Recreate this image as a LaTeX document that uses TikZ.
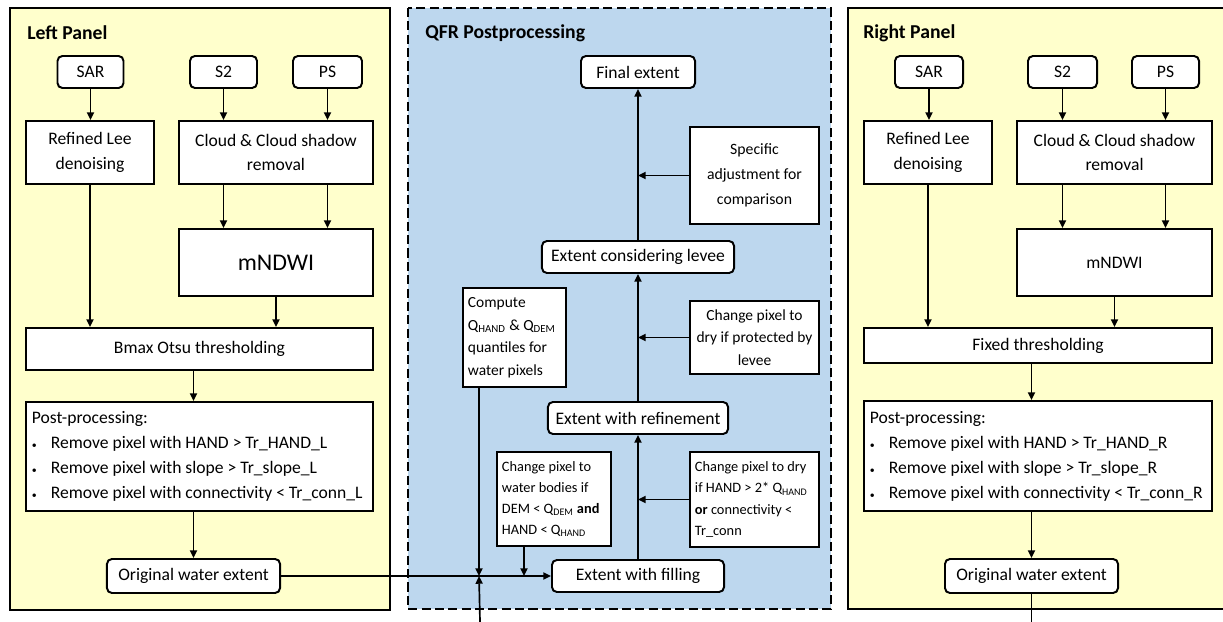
\documentclass[tikz,border=0pt]{standalone}
\usepackage{fontspec}
\setmainfont{Carlito}
\usepackage{tikz}
\usetikzlibrary{arrows.meta}
\usetikzlibrary{positioning}
\definecolor{panelyellow}{RGB}{255,255,204}
\definecolor{panelblue}{RGB}{189,215,238}
\newcommand{\listdot}{\makebox[13.5pt][l]{{\scriptsize\textbullet}}}
\tikzset{panel/.style={draw=black, line width=1.4pt},   % frame round each panel
         title/.style={anchor=west, inner sep=0pt, font=\fontsize{14}{16}\selectfont\bfseries},
         source/.style={  % rounded boxes: inputs and extents
           draw, fill=white, rounded corners=3.5pt, line width=1.4pt,
           inner sep=0pt, font=\fontsize{12.5}{17.5}\selectfont},
         stepbox/.style={ % plain processing boxes
           draw, fill=white, line width=1.4pt, inner sep=0pt,
           align=center, font=\fontsize{12.5}{17.5}\selectfont},
         notebox/.style={ % left aligned text boxes
           draw, fill=white, line width=1.4pt, inner xsep=0.125cm,
           inner ysep=0pt, align=flush left, font=\fontsize{11}{16}\selectfont},
         flow/.style={-{Triangle[length=5.5pt,width=5pt]}, line width=1.2pt}}

\begin{document}
\begin{tikzpicture}[x=0.025cm, y=-0.025cm]
\clip (0,0) rectangle (1223,622);
\fill[white] (0,0) rectangle (1223,622);

% panels
\draw[panel, fill=panelyellow] (10,8) rectangle (390,610);
\draw[panel, fill=panelblue, dash pattern=on 6.5pt off 3pt] (408,8) rectangle (831,609);
\draw[panel, fill=panelyellow] (848,8) rectangle (1240,609);

% left panel
\node[title] (ltitle) at (27,33) {Left Panel};
\node[source, minimum width=1.65cm, minimum height=0.8cm] (lsar) at (90.5,72) {SAR};
\node[source, minimum width=1.675cm, minimum height=0.8cm] (ls2) at (223.5,72) {S2};
\node[source, minimum width=1.725cm, minimum height=0.8cm] (lps) at (327.5,72) {PS};
\node[stepbox, minimum width=3.2cm, minimum height=1.575cm] (llee) at (90,152.5) {Refined Lee\\denoising};
\node[stepbox, minimum width=4.85cm, minimum height=1.575cm] (lcloud) at (276,152.5) {Cloud \& Cloud shadow\\removal};
\node[stepbox, minimum width=4.85cm, minimum height=1.675cm, font=\fontsize{17}{20}\selectfont] (lndwi) at (276,262.5) {mNDWI};
\node[stepbox, minimum width=8.675cm, minimum height=1.05cm] (lbmax) at (199.5,349) {Bmax Otsu thresholding};
\node[notebox, inner xsep=0.15cm, text width=8.375cm, minimum height=2.725cm, font=\fontsize{12.5}{17.8}\selectfont] (lpost) at (199.5,456.5)
  {Post-processing:\\\listdot Remove pixel with HAND > Tr\_HAND\_L\\\listdot Remove pixel with slope > Tr\_slope\_L\\\listdot Remove pixel with connectivity < Tr\_conn\_L};
\node[source, minimum width=4.325cm, minimum height=0.85cm] (lorig) at (193.5,576) {Original water extent};

% QFR postprocessing
\node[title] (ctitle) at (425,33) {QFR Postprocessing};
\node[source, minimum width=2.85cm, minimum height=0.8cm] (final) at (638,72) {Final extent};
\node[stepbox, minimum width=3.225cm, minimum height=2.425cm, font=\fontsize{11.2}{18}\selectfont] (spec) at (754.5,175.5) {Specific\\adjustment for\\comparison};
\node[source, minimum width=4.8cm, minimum height=0.8cm] (levee) at (638,257) {Extent considering levee};
\node[notebox, text width=2.325cm, minimum height=2.475cm] (compute) at (514.5,337.5)
  {Compute\\Q\textsubscript{HAND} \& Q\textsubscript{DEM}\\quantiles for\\water pixels};
\node[stepbox, minimum width=3.225cm, minimum height=1.825cm, font=\fontsize{11}{16}\selectfont] (protect) at (754.5,337.5) {Change pixel to\\dry if protected by\\levee};
\node[source, minimum width=4.5cm, minimum height=0.8cm] (refine) at (638,418) {Extent with refinement};
\node[notebox, text width=2.6cm, minimum height=2.35cm, font=\fontsize{10.2}{15}\selectfont] (water) at (554,499)
  {Change pixel to\\water bodies if\\DEM < Q\textsubscript{DEM} \textbf{and}\\HAND < Q\textsubscript{HAND}};
\node[notebox, text width=2.975cm, minimum height=2.375cm, font=\fontsize{10.2}{15}\selectfont] (dry) at (754.5,499.5)
  {Change pixel to dry\\if HAND > 2* Q\textsubscript{HAND}\\\textbf{or} connectivity <\\Tr\_conn};
\node[source, minimum width=4.3cm, minimum height=0.8cm] (filling) at (638,576) {Extent with filling};

\coordinate (cfoot) at ([xshift=0.425cm]compute.south west);
\coordinate (wfoot) at ([xshift=0.7cm]water.south west);
\coordinate (cross) at (cfoot |- filling.west);
\coordinate (qin) at (480,622);

% right panel
\node[title] (rtitle) at (863,33) {Right Panel};
\node[source, minimum width=1.7cm, minimum height=0.8cm] (rsar) at (929,72) {SAR};
\node[source, minimum width=1.725cm, minimum height=0.8cm] (rs2) at (1062.5,72) {S2};
\node[source, minimum width=1.675cm, minimum height=0.8cm] (rps) at (1165.5,72) {PS};
\node[stepbox, minimum width=3.2cm, minimum height=1.575cm] (rlee) at (928,152.5) {Refined Lee\\denoising};
\node[stepbox, minimum width=4.875cm, minimum height=1.575cm] (rcloud) at (1114.5,152.5) {Cloud \& Cloud shadow\\removal};
\node[stepbox, minimum width=4.875cm, minimum height=1.675cm] (rndwi) at (1114.5,262.5) {mNDWI};
\node[stepbox, minimum width=8.7cm, minimum height=0.875cm] (rfix) at (1038,345.5) {Fixed thresholding};
\node[notebox, inner xsep=0.15cm, text width=8.4cm, minimum height=2.75cm, font=\fontsize{12.5}{17.8}\selectfont] (rpost) at (1038,456)
  {Post-processing:\\\listdot Remove pixel with HAND > Tr\_HAND\_R\\\listdot Remove pixel with slope > Tr\_slope\_R\\\listdot Remove pixel with connectivity < Tr\_conn\_R};
\node[source, minimum width=4.325cm, minimum height=0.85cm] (rorig) at (1031.5,576) {Original water extent};
\coordinate (rout) at (1031.5,622);

% connectors, left
\draw[flow] (lsar.south) -- (lsar.south |- llee.north);
\draw[flow] (ls2.south) -- (ls2.south |- lcloud.north);
\draw[flow] (lps.south) -- (lps.south |- lcloud.north);
\draw[flow] (ls2.south |- lcloud.south) -- (ls2.south |- lndwi.north);
\draw[flow] (lps.south |- lcloud.south) -- (lps.south |- lndwi.north);
\draw[flow] (llee.south) -- (llee.south |- lbmax.north);
\draw[flow] (lndwi.south) -- (lndwi.south |- lbmax.north);
\draw[flow] (lorig.north |- lbmax.south) -- (lorig.north |- lpost.north);
\draw[flow] (lorig.north |- lpost.south) -- (lorig.north);
\draw[flow] (lorig.east) -- (filling.west);

% connectors, centre
\draw[flow] (levee.north) -- (final.south);
\draw[flow] (spec.west) -- (spec.west -| final.south);
\draw[flow] (refine.north) -- (levee.south);
\draw[flow] (protect.west) -- (protect.west -| final.south);
\draw[flow] (filling.north) -- (refine.south);
\draw[flow] (dry.west) -- (dry.west -| final.south);
\draw[flow] (wfoot) -- (wfoot |- filling.west);
\draw[flow] (cfoot) -- (cross);
\draw[flow] (qin) -- (cross);

% connectors, right
\draw[flow] (rsar.south) -- (rsar.south |- rlee.north);
\draw[flow] (rs2.south) -- (rs2.south |- rcloud.north);
\draw[flow] (rps.south) -- (rps.south |- rcloud.north);
\draw[flow] (rs2.south |- rcloud.south) -- (rs2.south |- rndwi.north);
\draw[flow] (rps.south |- rcloud.south) -- (rps.south |- rndwi.north);
\draw[flow] (rlee.south) -- (rlee.south |- rfix.north);
\draw[flow] (rndwi.south) -- (rndwi.south |- rfix.north);
\draw[flow] (rorig.north |- rfix.south) -- (rorig.north |- rpost.north);
\draw[flow] (rorig.north |- rpost.south) -- (rorig.north);
\draw[line width=1.2pt] (rorig.south) -- (rout);
\end{tikzpicture}
\end{document}
